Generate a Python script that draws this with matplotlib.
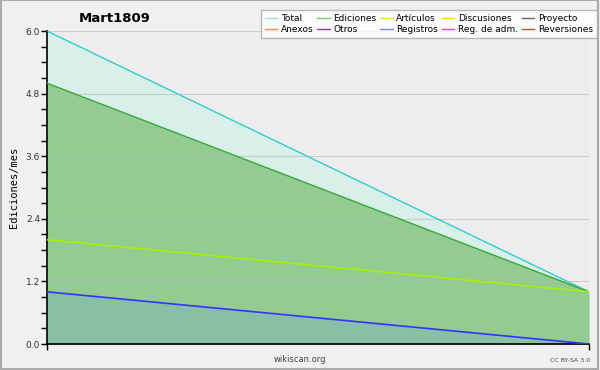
import matplotlib.pyplot as plt
from matplotlib.patches import Rectangle
from matplotlib.lines import Line2D
from matplotlib.ticker import MultipleLocator

# datos (dos meses)
meses = [0, 1]
total = [6.0, 1.0]
ediciones = [5.0, 1.0]
articulos = [2.0, 1.0]
registros = [1.0, 0.0]

leyenda_nombres = ["Total", "Ediciones", "Artículos", "Discusiones", "Proyecto",
                   "Anexos", "Otros", "Registros", "Reg. de adm.", "Reversiones"]
leyenda_colores = ["#99e0e0", "#77cc77", "#c8ee44", "#ffcc33", "#666666",
                   "#ff8844", "#8833ee", "#7788ff", "#dd44ee", "#ff3333"]

fig = plt.figure(figsize=(6, 3.7), dpi=100, facecolor="#f0f0f0")
ax = fig.add_axes([47 / 600, 26 / 370, 542 / 600, 313 / 370])
ax.set_facecolor("#ededef")

# rellenos
ax.fill_between(meses, 0, total, color="#d9f0ea", lw=0, zorder=1)
ax.fill_between(meses, 0, ediciones, color="#93cb93", lw=0, zorder=1)
ax.fill_between(meses, 0, registros, color="#88c0a6", lw=0, zorder=1)

# lineas
ax.plot(meses, total, color="#33cccc", lw=1, zorder=3)
ax.plot(meses, ediciones, color="#33aa33", lw=1, zorder=3)
ax.plot(meses, articulos, color="#aaee00", lw=1.2, zorder=3)
ax.plot(meses, registros, color="#3333ff", lw=1.2, zorder=3)

ax.set_xlim(0, 1)
ax.set_ylim(0, 6)
ax.yaxis.set_major_locator(MultipleLocator(1.2))
ax.yaxis.set_minor_locator(MultipleLocator(0.3))
ax.yaxis.set_major_formatter(plt.FuncFormatter(lambda v, p: f"{v:.1f}"))
ax.set_xticks(meses)
ax.set_xticklabels([])
ax.tick_params(axis="y", which="major", length=4, width=1, labelsize=6.5,
               labelcolor="#333333", pad=1)
ax.tick_params(axis="y", which="minor", length=4, width=1)
ax.tick_params(axis="x", length=4, width=1)
ax.set_axisbelow("line")
ax.yaxis.grid(True, color="#b8b8b8", lw=0.8, alpha=0.6)

for s in ["top", "right"]:
    ax.spines[s].set_visible(False)
for s in ["left", "bottom"]:
    ax.spines[s].set_linewidth(1.2)

fig.text(14 / 600, 1 - 187 / 370, "Ediciones/mes", family="DejaVu Sans Mono",
         fontsize=7.5, rotation=90, ha="center", va="center")

fig.text(115 / 600, 1 - 18 / 370, "Mart1809", fontsize=9.5, fontweight="bold",
         ha="center", va="center")
fig.text(300 / 600, 1 - 360 / 370, "wikiscan.org", fontsize=6, color="#444444",
         ha="center", va="center")
fig.text(590 / 600, 1 - 360 / 370, "CC BY-SA 3.0", fontsize=4.5, color="#444444",
         ha="right", va="center")

# leyenda (orden por filas)
handles = [Line2D([], [], color=c, lw=1) for c in leyenda_colores]
orden = [0, 5, 1, 6, 2, 7, 3, 8, 4, 9]
leg = fig.legend([handles[i] for i in orden], [leyenda_nombres[i] for i in orden],
                 ncol=5, loc="upper right", bbox_to_anchor=(597 / 600, 1 - 10 / 370),
                 fontsize=6.5, frameon=True, fancybox=False, handlelength=1.4,
                 handletextpad=0.4, columnspacing=0.4, labelspacing=0.2,
                 borderpad=0.45, borderaxespad=0)
leg.get_frame().set_edgecolor("#aaaaaa")
leg.get_frame().set_linewidth(1)

# borde de la imagen
fig.patches.append(Rectangle((0.001, 0.004), 0.996, 0.995, transform=fig.transFigure,
                             fill=False, edgecolor="#aaaaaa", lw=1.5))

fig.savefig("out.png", dpi=100, facecolor=fig.get_facecolor())
